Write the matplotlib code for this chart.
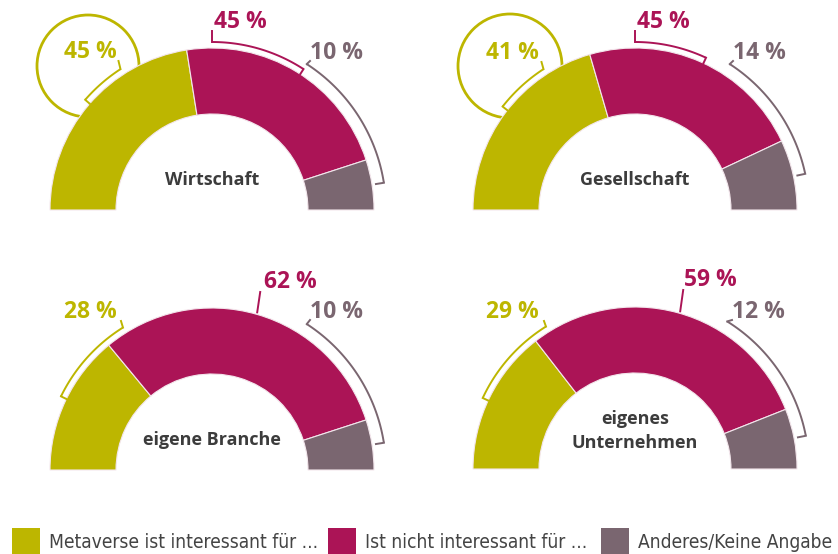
import numpy as np
import matplotlib
matplotlib.use("Agg")
import matplotlib.pyplot as plt
from matplotlib.patches import Wedge, Circle, Rectangle

# ---- data ----
panels = ["Wirtschaft", "Gesellschaft", "eigene Branche", "eigenes\nUnternehmen"]
interessant = [45, 41, 28, 29]
nicht_interessant = [45, 45, 62, 59]
anderes = [10, 14, 10, 12]
legend_labels = ["Metaverse ist interessant für ...", "Ist nicht interessant für ...", "Anderes/Keine Angabe"]

GREEN = "#BDB600"
MAGENTA = "#AB1456"
GRAY = "#7A6670"
TXT = "#3C3C3C"

W, H = 838, 554
fig = plt.figure(figsize=(W / 100, H / 100), dpi=100)
ax = fig.add_axes([0, 0, 1, 1])
ax.set_xlim(0, W)
ax.set_ylim(0, H)
ax.axis("off")

def Y(y):
    return H - y

R, r = 162, 96
centers = [(212, 210), (635, 210), (212, 470), (635, 469)]

# layout of labels / brackets (pixel, y-down)
lab_green = [(90, 52), (512, 53), (90, 312), (512, 312)]
lab_mag = [(240, 22), (663, 22), (290, 282), (710, 280)]
lab_gray = [(336, 53), (759, 53), (336, 312), (758, 312)]
bubble = [((88, 66), 51), ((510, 66), 52), None, None]
br_green = [(123, 139), (123, 142), (122, 154), (122, 155)]
br_mag = [(90, 57), (90, 65), None, None]
br_gray = [(57, 9), (57, 12), (57, 9), (58, 11)]

def pt(c, ang, rad):
    cx, cy = c
    a = np.radians(ang)
    return cx + rad * np.cos(a), Y(cy) + rad * np.sin(a)

def bracket(c, a1, a2, rad, color, leader_to, tick=7):
    angs = np.linspace(a1, a2, 60)
    xs = [pt(c, a, rad)[0] for a in angs]
    ys = [pt(c, a, rad)[1] for a in angs]
    ax.plot(xs, ys, color=color, lw=1.4, solid_capstyle="butt", zorder=3)
    p1 = pt(c, a2, rad)
    p2 = pt(c, a2, rad - tick)
    ax.plot([p1[0], p2[0]], [p1[1], p2[1]], color=color, lw=1.4, zorder=3)
    s = pt(c, a1, rad)
    ax.plot([s[0], leader_to[0]], [s[1], Y(leader_to[1])], color=color, lw=1.4, zorder=3)

pct_font = dict(family="Open Sans", fontweight="bold", fontsize=16.5)

for i, c in enumerate(centers):
    g, m, o = interessant[i], nicht_interessant[i], anderes[i]
    cx, cy = c
    t1 = 180 - 1.8 * g
    t2 = t1 - 1.8 * m
    for (a, b, col) in [(t1, 180, GREEN), (t2, t1, MAGENTA), (0, t2, GRAY)]:
        ax.add_patch(Wedge((cx, Y(cy)), R, a, b, width=R - r, facecolor=col,
                           edgecolor="#F3E6EC", lw=0.8, zorder=2))
    if bubble[i] is not None:
        (bx, by), br = bubble[i]
        ax.add_patch(Circle((bx, Y(by)), br, facecolor="white", edgecolor=GREEN, lw=2, zorder=1))
    ga1, ga2 = br_green[i]
    gl = lab_green[i]
    bracket(c, ga1, ga2, R + 6, GREEN, (pt(c, ga1, R + 6)[0] - 2, gl[1] + 9), tick=6)
    ml = lab_mag[i]
    if br_mag[i] is not None:
        ma1, ma2 = br_mag[i]
        bracket(c, ma1, ma2, R + 6, MAGENTA, (pt(c, ma1, R + 6)[0], ml[1] + 9), tick=6)
    else:
        s = pt(c, 74, R + 2)
        ax.plot([s[0], s[0] + 3], [s[1], Y(ml[1] + 10)], color=MAGENTA, lw=1.4, zorder=3)
    oa1, oa2 = br_gray[i]
    ol = lab_gray[i]
    bracket(c, oa1, oa2, R + 12, GRAY, (ol[0] - 26, ol[1] + 8), tick=8)

    ax.text(gl[0], Y(gl[1]), f"{g} %", color=GREEN, ha="center", va="center", zorder=4, **pct_font)
    ax.text(ml[0], Y(ml[1]), f"{m} %", color=MAGENTA, ha="center", va="center", zorder=4, **pct_font)
    ax.text(ol[0], Y(ol[1]), f"{o} %", color=GRAY, ha="center", va="center", zorder=4, **pct_font)
    ly = cy - 30 if "\n" not in panels[i] else cy - 38
    ax.text(cx, Y(ly), panels[i], color=TXT, ha="center", va="center", fontsize=13,
            fontweight="bold", family="Open Sans", linespacing=1.45, zorder=4)

# legend
leg_x = [12, 328, 601]
cols = [GREEN, MAGENTA, GRAY]
for x, col, lab in zip(leg_x, cols, legend_labels):
    ax.add_patch(Rectangle((x, Y(554)), 28, 26, facecolor=col, edgecolor="none"))
    ax.text(x + 37, Y(542), lab, color="#444444", ha="left", va="center",
            fontsize=13.8, family="DejaVu Sans", fontstretch="condensed")

fig.savefig("out.png", dpi=100, facecolor="white")
